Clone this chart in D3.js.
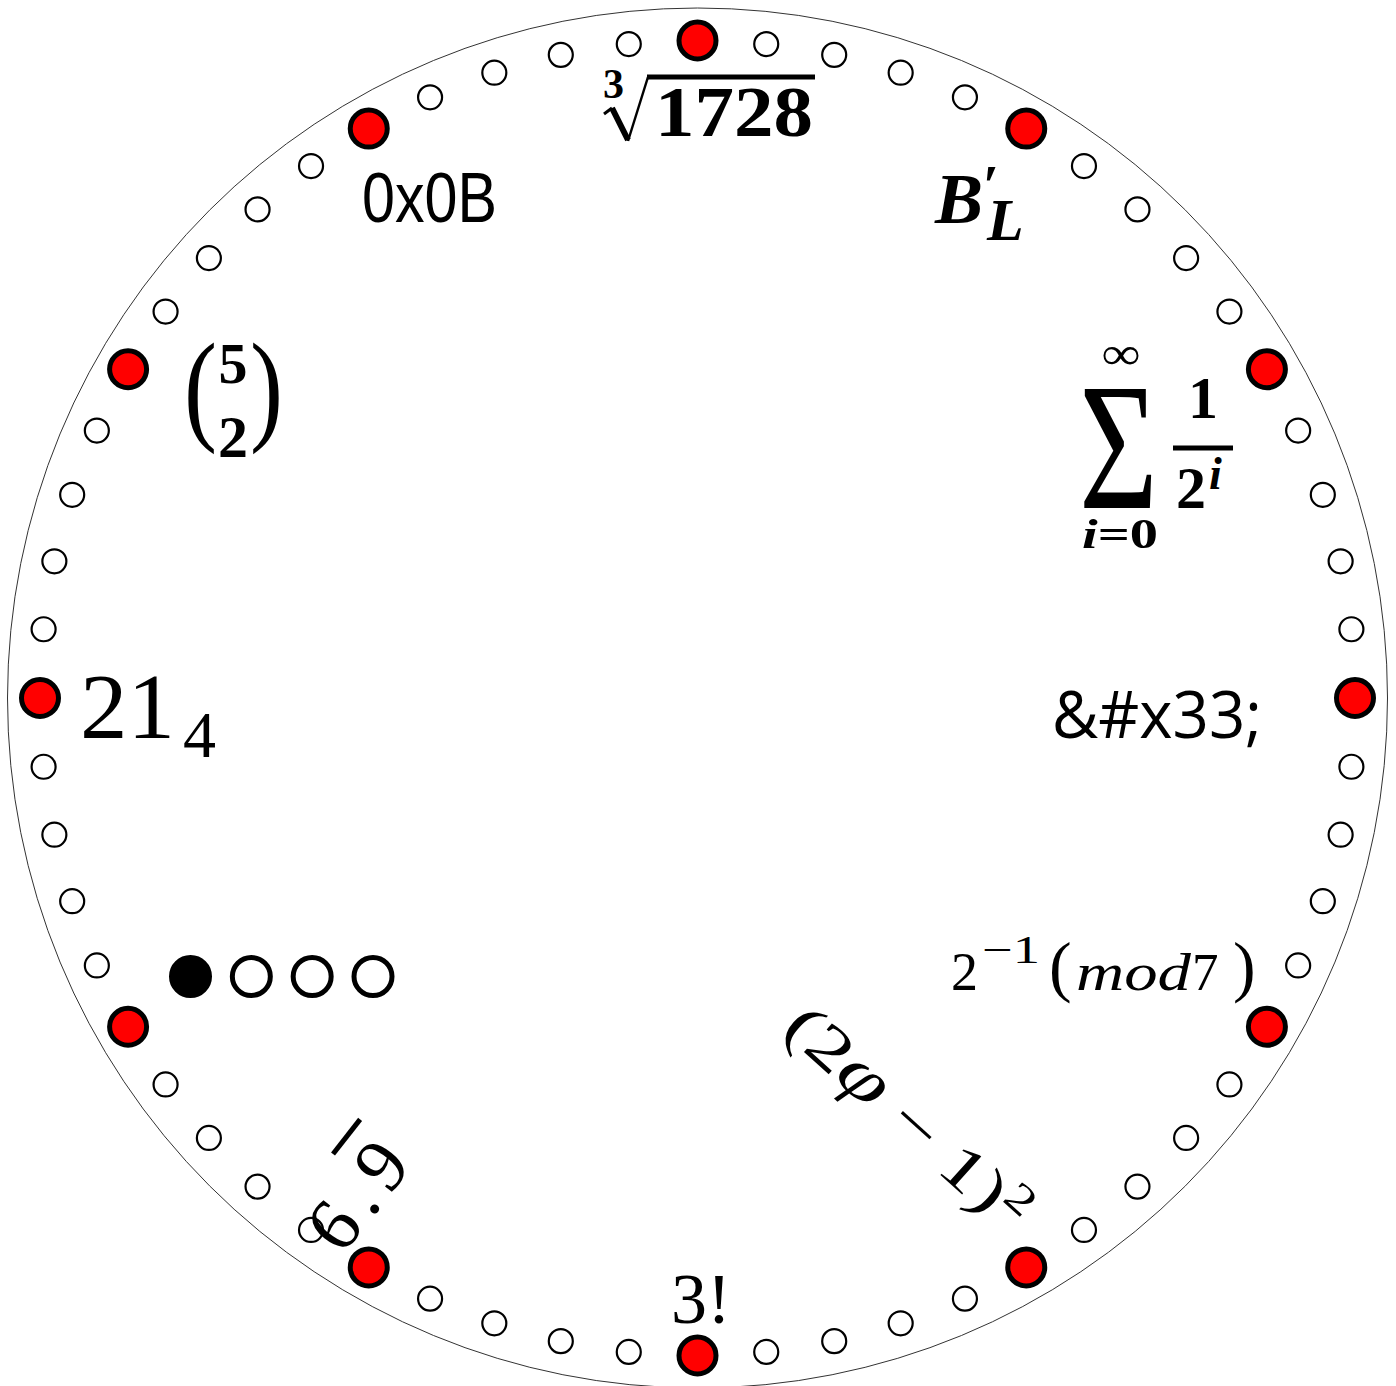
<!DOCTYPE html>
<html><head><meta charset="utf-8">
<script src="https://cdn.jsdelivr.net/npm/d3@7"></script>
<style>body{margin:0;background:#fff}svg{display:block}</style>
</head><body>
<svg id="clock" width="1396" height="1386"></svg>
<script>
// ---------- data ----------
const minuteTicks = d3.range(60);
const hourTicks = [0, 5, 10, 15, 20, 25, 30, 35, 40, 45, 50, 55];
const hourNames = [12, 1, 2, 3, 4, 5, 6, 7, 8, 9, 10, 11];
const cubeRoot = ["3", "1728"];
const primeLabel = ["B", "\u2032", "L"];
const sumLabel = ["\u03A3", "\u221E", "i", "=0", "1", "2", "i"];
const entityLabel = ["&#x33;"];
const modLabel = ["2", "\u22121", "(", "mod", "7", ")"];
const phiLabel = ["(2", "\u03C6", " \u2212 1)", "2"];
const factLabel = ["3!"];
const repeatLabel = ["6.", "9"];
const binaryEight = [1, 0, 0, 0];
const base4Label = ["21", "4"];
const binomLabel = ["(", "5", "2", ")"];
const hexLabel = ["0x0B"];

// ---------- layout ----------
const W = 1396, H = 1386, cx = 697.5, cy = 698;
const SERIF = "'Liberation Serif','DejaVu Serif',serif";
const svg = d3.select("#clock");
const angle = d3.scaleLinear().domain([0, 60]).range([0, 2 * Math.PI]);
const rDots = 657.5;
const px = m => cx + rDots * Math.sin(angle(m));
const py = m => cy - rDots * Math.cos(angle(m));

svg.append("circle").attr("cx", cx).attr("cy", cy).attr("r", 690)
  .attr("fill", "none").attr("stroke", "#333").attr("stroke-width", 1);

svg.append("g").selectAll("circle").data(minuteTicks.filter(m => m % 5 !== 0))
  .join("circle").attr("cx", px).attr("cy", py).attr("r", 12)
  .attr("fill", "#fff").attr("stroke", "#000").attr("stroke-width", 2.2);

svg.append("g").selectAll("circle").data(hourTicks)
  .join("circle").attr("cx", px).attr("cy", py).attr("r", 18.5)
  .attr("fill", "#ff0000").attr("stroke", "#000").attr("stroke-width", 5);

const L = svg.append("g").attr("fill", "#000");
function T(x, y, s, size, o = {}) {
  const t = L.append("text").attr("x", x).attr("y", y).attr("font-size", size)
    .attr("font-family", o.family || SERIF).text(s);
  if (o.bold) t.attr("font-weight", "bold");
  if (o.italic) t.attr("font-style", "italic");
  if (o.anchor) t.attr("text-anchor", o.anchor);
  if (o.len) t.attr("textLength", o.len).attr("lengthAdjust", "spacingAndGlyphs");
  return t;
}

// 12 : cube root of 1728
T(603, 98, cubeRoot[0], 42, {bold: true});
L.append("path").attr("d", "M604,114 L612,108").attr("stroke", "#000").attr("stroke-width", 3).attr("fill", "none");
L.append("path").attr("d", "M612,108 L628,140").attr("stroke", "#000").attr("stroke-width", 6).attr("fill", "none");
L.append("path").attr("d", "M628,141 L648,77").attr("stroke", "#000").attr("stroke-width", 2.5).attr("fill", "none");
L.append("line").attr("x1", 647).attr("x2", 815).attr("y1", 77).attr("y2", 77).attr("stroke", "#000").attr("stroke-width", 5);
T(655, 136, cubeRoot[1], 71, {bold: true, len: 158});

// 1 : B'_L
T(935, 223, primeLabel[0], 72, {bold: true, italic: true});
T(983, 205, primeLabel[1], 58, {bold: true});
T(987, 240, primeLabel[2], 60, {bold: true, italic: true});

// 2 : sum 1/2^i
T(1079, 508, sumLabel[0], 183, {len: 79});
T(1121, 369, sumLabel[1], 46, {bold: true, anchor: "middle", len: 38});
const il = T(1120, 548, "", 42, {bold: true, anchor: "middle", len: 76});
il.append("tspan").attr("font-style", "italic").text(sumLabel[2]);
il.append("tspan").text(sumLabel[3]);
L.append("line").attr("x1", 1173).attr("x2", 1233).attr("y1", 448).attr("y2", 448).attr("stroke", "#000").attr("stroke-width", 5);
T(1203, 418, sumLabel[4], 60, {bold: true, anchor: "middle"});
T(1176, 508, sumLabel[5], 60, {bold: true});
T(1209, 489, sumLabel[6], 46, {bold: true, italic: true});

// 3 : &#x33;
T(1052, 738, entityLabel[0], 66, {family: "'Open Sans','Noto Sans',sans-serif", len: 210});

// 4 : 2^-1 (mod 7)
T(951, 990, modLabel[0], 54);
T(982, 963, modLabel[1], 40, {len: 58});
T(1049, 989, modLabel[2], 68);
T(1076, 990, modLabel[3], 53, {italic: true, len: 115});
T(1192, 990, modLabel[4], 53);
T(1233, 989, modLabel[5], 68);

// 5 : (2phi - 1)^2 rotated
const g5 = L.append("g").attr("transform", "translate(894,1133) rotate(42)");
const t5 = g5.append("text").attr("font-family", SERIF).attr("font-size", 62)
  .attr("text-anchor", "middle").attr("textLength", 305).attr("lengthAdjust", "spacingAndGlyphs");
t5.append("tspan").text(phiLabel[0]);
t5.append("tspan").attr("font-style", "italic").attr("font-size", 68).text(phiLabel[1]);
t5.append("tspan").text(phiLabel[2]);
t5.append("tspan").attr("font-size", 42).attr("dy", -22).text(phiLabel[3]);

// 6 : 3!
T(701, 1323, factLabel[0], 72, {anchor: "middle"});

// 7 : 6.9 repeating, rotated
const g7 = L.append("g").attr("transform", "translate(360,1191) rotate(-52)");
const t7 = g7.append("text").attr("font-family", SERIF).attr("font-size", 76)
  .attr("text-anchor", "middle").attr("y", 26).attr("letter-spacing", 10);
t7.append("tspan").text(repeatLabel[0]);
t7.append("tspan").text(repeatLabel[1]);
{
  const n = repeatLabel[0].length;
  const a = t7.node().getStartPositionOfChar(n), b = t7.node().getEndPositionOfChar(n);
  g7.append("line").attr("x1", a.x - 2).attr("x2", b.x - 6).attr("y1", 26 - 70).attr("y2", 26 - 70)
    .attr("stroke", "#000").attr("stroke-width", 5);
}

// 8 : binary 1000 as dots
const bx = d3.scaleLinear().domain([0, 3]).range([190.5, 373]);
L.append("g").selectAll("circle").data(binaryEight).join("circle")
  .attr("cx", (d, i) => bx(i)).attr("cy", 976.5).attr("r", 19)
  .attr("fill", d => d ? "#000" : "#fff").attr("stroke", "#000").attr("stroke-width", 5);

// 9 : 21_4
T(80, 738, base4Label[0], 93, {len: 95});
T(183, 757, base4Label[1], 66);

// 10 : binomial 5 choose 2
T(184, 428, binomLabel[0], 123, {len: 33});
T(250, 428, binomLabel[3], 123, {len: 33});
T(233, 383, binomLabel[1], 58, {bold: true, anchor: "middle"});
T(233, 457, binomLabel[2], 60, {bold: true, anchor: "middle"});

// 11 : 0x0B
T(362, 222, hexLabel[0], 70, {family: "'Liberation Sans Narrow','Liberation Sans',sans-serif", len: 135});
</script>
</body></html>
